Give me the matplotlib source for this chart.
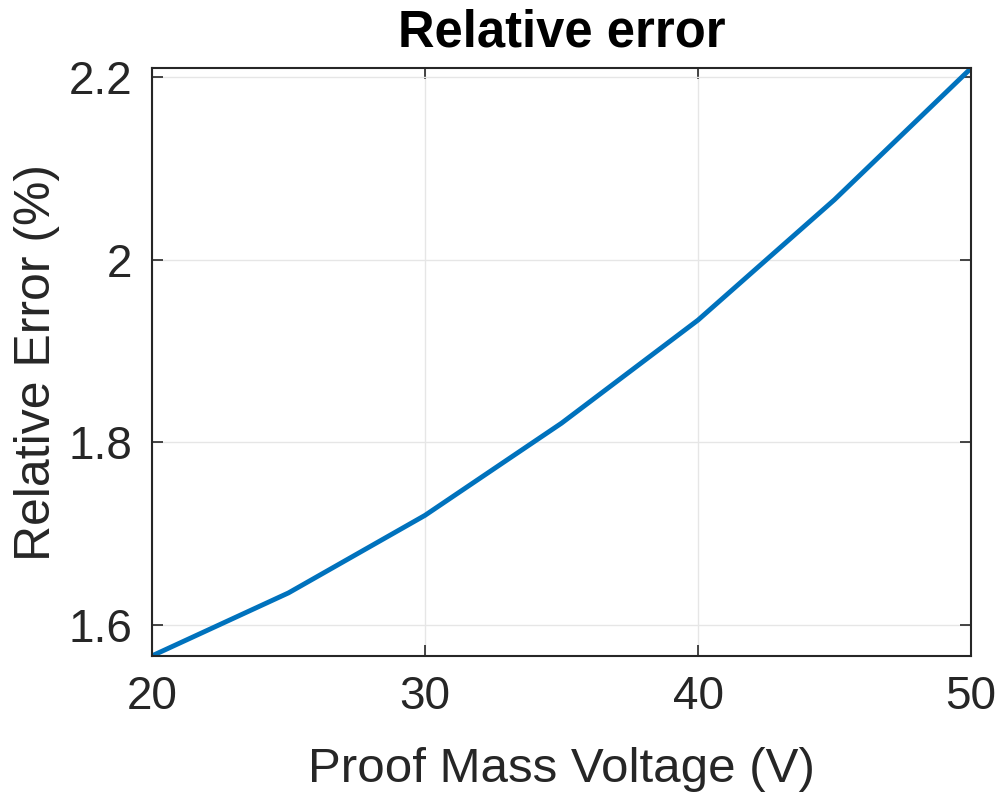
import matplotlib
matplotlib.use("Agg")
import matplotlib.pyplot as plt

voltage = [20, 25, 30, 35, 40, 45, 50]
rel_error = [1.566, 1.635, 1.720, 1.821, 1.934, 2.066, 2.210]
xticks = [20, 30, 40, 50]
yticks = [1.6, 1.8, 2.0, 2.2]
ytick_labels = ["1.6", "1.8", "2", "2.2"]

plt.rcParams['font.family'] = ['Liberation Sans', 'DejaVu Sans']
fig = plt.figure(figsize=(10, 7.94), dpi=100)
ax = fig.add_axes([0.152, 0.174, 0.819, 0.740])

ax.plot(voltage, rel_error, color='#0072BD', lw=3.5, solid_capstyle='butt')
ax.set_xlim(20, 50)
ax.set_ylim(min(rel_error), max(rel_error))
ax.set_xticks(xticks)
ax.set_yticks(yticks)
ax.set_yticklabels(ytick_labels)
ax.grid(True, color='#e6e6e6', lw=1)
ax.set_axisbelow(True)
for s in ax.spines.values():
    s.set_color('#262626')
    s.set_linewidth(1.5)
ax.tick_params(direction='in', length=8, width=1.2, colors='#262626', labelsize=33,
               top=True, right=True)
ax.tick_params(axis='x', pad=14)
ax.tick_params(axis='y', pad=14)
ax.set_xlabel('Proof Mass Voltage (V)', fontsize=35.5, color='#262626', labelpad=20)
ax.set_ylabel('Relative Error (%)', fontsize=36, color='#262626', labelpad=6)
ax.set_title('Relative error', fontsize=36.5, fontweight='bold', color='black', pad=16)

fig.savefig('out.png', dpi=100)
